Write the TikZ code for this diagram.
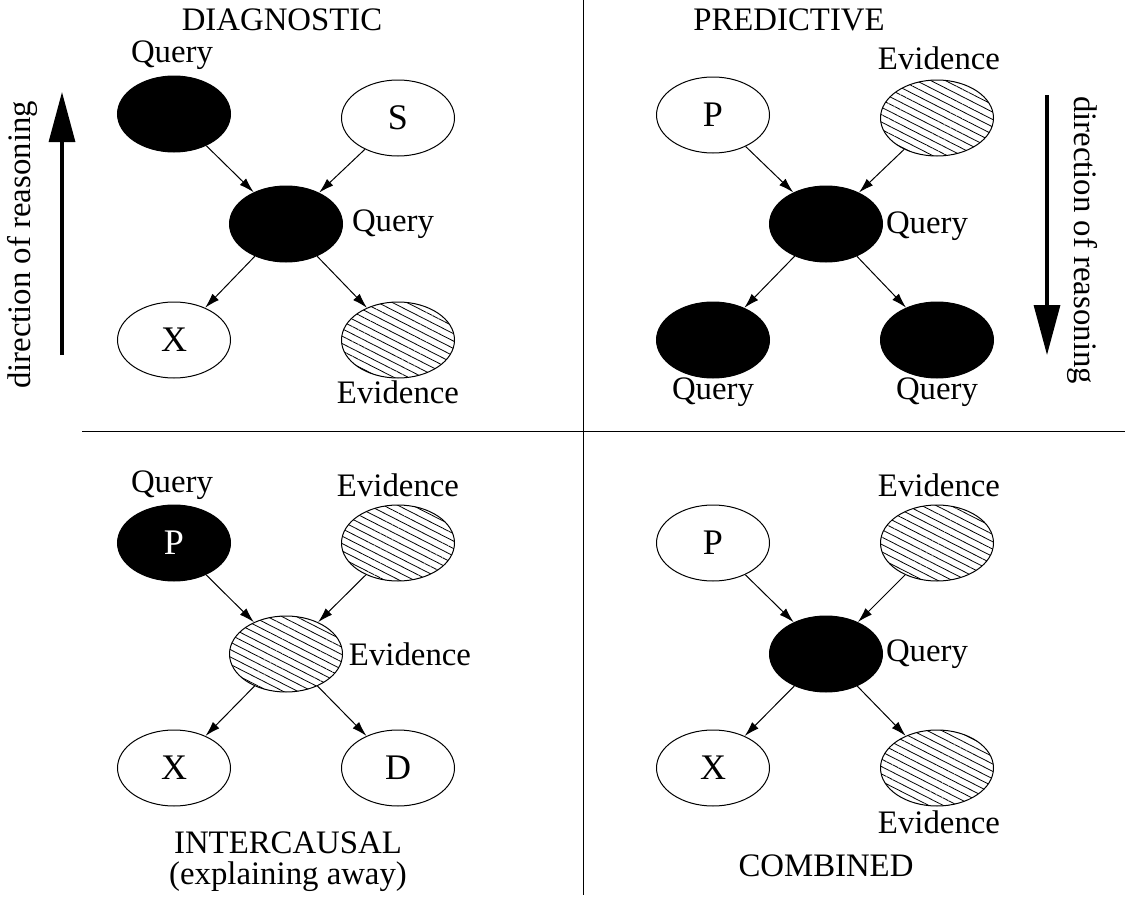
\documentclass[tikz,border=0pt]{standalone}
\usepackage{fontspec}
\setmainfont{Liberation Serif}
\usetikzlibrary{shapes.geometric,arrows.meta,patterns.meta}

\begin{document}
\begin{tikzpicture}[x=0.5pt, y=-0.5pt,
  font=\fontsize{16.4}{19}\selectfont,
  var/.style={ellipse, draw, line width=0.5pt, minimum width=56.5pt, minimum height=38pt, inner sep=0pt, font=\fontsize{18}{20}\selectfont},
  query/.style={var, fill=black, text=white},
  evid/.style={var, pattern={Lines[angle=-27, distance=3.3pt, line width=0.4pt]}},
  edge/.style={-{Latex[length=7.5pt, width=4.5pt]}, line width=0.5pt},
  reason/.style={-{Triangle[length=25pt, width=13pt]}, line width=1.6pt}]
\useasboundingbox (0,0) rectangle (1142,910);

% quadrant lines
\coordinate (vtop) at (583,0);
\coordinate (vbot) at (583,895);
\coordinate (hleft) at (82,431);
\coordinate (hright) at (1125,431);
\draw[line width=0.5pt] (vtop) -- (vbot);
\draw[line width=0.5pt] (hleft) -- (hright);

% diagnostic
\node (ldiag) at (282,20) {DIAGNOSTIC};
\node[query] (dq1) at (174,114) {};
\node[var] (ds) at (398,118) {S};
\node[query] (dq2) at (286,224) {};
\node[var] (dx) at (174,340) {X};
\node[evid] (de) at (398,340) {};
\node (ldq1) at (172,55) {Query};
\node (ldq2) at (393,224) {Query};
\node (lde) at (398,392) {Evidence};
\draw[edge] (dq1) -- (dq2);
\draw[edge] (ds) -- (dq2);
\draw[edge] (dq2) -- (dx);
\draw[edge] (dq2) -- (de);

\coordinate (upfrom) at (62,355);
\coordinate (upto) at (62,92);
\draw[reason] (upfrom) -- (upto);
\node[rotate=90] (lup) at (22,245) {direction of reasoning};

% predictive
\node (lpred) at (789,20) {PREDICTIVE};
\node[var] (pp) at (713,115) {P};
\node[evid] (pe) at (937,118) {};
\node[query] (pq) at (826,224) {};
\node[query] (pq1) at (713,340) {};
\node[query] (pq2) at (937,340) {};
\node (lpe) at (939,58) {Evidence};
\node (lpq) at (927,226) {Query};
\node (lpq1) at (713,392) {Query};
\node (lpq2) at (937,392) {Query};
\draw[edge] (pp) -- (pq);
\draw[edge] (pe) -- (pq);
\draw[edge] (pq) -- (pq1);
\draw[edge] (pq) -- (pq2);

\coordinate (downfrom) at (1047,95);
\coordinate (downto) at (1047,355);
\draw[reason] (downfrom) -- (downto);
\node[rotate=-90] (ldown) at (1082,240) {direction of reasoning};

% intercausal
\node[query] (ip) at (174,543) {P};
\node[evid] (ie1) at (398,543) {};
\node[evid] (ie2) at (286,654) {};
\node[var] (ix) at (174,768) {X};
\node[var] (id) at (398,768) {D};
\node (lip) at (172,485) {Query};
\node (lie1) at (398,485) {Evidence};
\node (lie2) at (410,654) {Evidence};
\node (linter) at (288,843) {INTERCAUSAL};
\node (laway) at (288,877) {(explaining away)};
\draw[edge] (ip) -- (ie2);
\draw[edge] (ie1) -- (ie2);
\draw[edge] (ie2) -- (ix);
\draw[edge] (ie2) -- (id);

% combined
\node[var] (cp) at (713,543) {P};
\node[evid] (ce1) at (937,543) {};
\node[query] (cq) at (826,654) {};
\node[var] (cx) at (713,768) {X};
\node[evid] (ce2) at (937,768) {};
\node (lce1) at (939,485) {Evidence};
\node (lcq) at (927,654) {Query};
\node (lce2) at (939,822) {Evidence};
\node (lcomb) at (826,866) {COMBINED};
\draw[edge] (cp) -- (cq);
\draw[edge] (ce1) -- (cq);
\draw[edge] (cq) -- (cx);
\draw[edge] (cq) -- (ce2);
\end{tikzpicture}
\end{document}
